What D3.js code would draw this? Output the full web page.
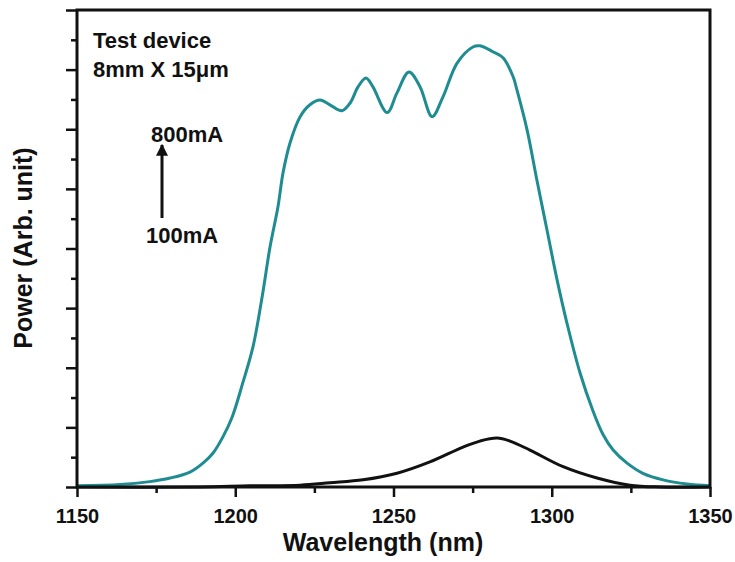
<!DOCTYPE html>
<html>
<head>
<meta charset="utf-8">
<script src="https://cdn.jsdelivr.net/npm/d3@7"></script>
<style>
  body { margin: 0; background: #fff; }
  text { font-family: "Liberation Sans", Arial, sans-serif; font-weight: bold; fill: #111; }
</style>
</head>
<body>
<svg width="735" height="562"></svg>
<script>
// spectrum at 800mA (teal)
var wl800 = [1150, 1163.6, 1173.0, 1179.4, 1185.7, 1189.8, 1193.0, 1196.1, 1199.0, 1202.4,
             1205.6, 1208.5, 1211.0, 1213.5, 1215.1, 1217.3, 1220.5, 1223.6, 1226.8, 1229.9,
             1233.7, 1236.3, 1238.8, 1241.3, 1243.5, 1248.0, 1251.1, 1254.9, 1258.4, 1262.2,
             1265.6, 1270.1, 1275.1, 1277.3, 1281.4, 1284.6, 1287.8, 1289.0, 1292.2, 1295.3,
             1298.5, 1301.7, 1304.8, 1308.9, 1313.0, 1316.2, 1319.4, 1323.8, 1328.8, 1335.2,
             1342.7, 1350];
var pow800 = [0.02, 0.04, 0.09, 0.15, 0.25, 0.40, 0.57, 0.84, 1.17, 1.75,
              2.35, 3.19, 4.03, 4.70, 5.27, 5.77, 6.21, 6.41, 6.49, 6.41,
              6.31, 6.44, 6.71, 6.86, 6.71, 6.28, 6.61, 6.96, 6.71, 6.21,
              6.54, 7.11, 7.38, 7.40, 7.30, 7.20, 6.88, 6.66, 5.99, 5.15,
              4.31, 3.47, 2.75, 1.92, 1.28, 0.88, 0.62, 0.40, 0.23, 0.12,
              0.05, 0.02];

// spectrum at 100mA (black)
var wl100 = [1150, 1188.9, 1204.7, 1220.5, 1229.9, 1240.4, 1251.1, 1261.5, 1272.0, 1277.3,
             1282.7, 1286.8, 1293.1, 1303.6, 1314.3, 1324.7, 1334.2, 1350];
var pow100 = [0, 0, 0.02, 0.03, 0.07, 0.12, 0.23, 0.42, 0.67, 0.77,
              0.82, 0.77, 0.62, 0.34, 0.15, 0.03, 0, 0];

var xMajor = [1150, 1200, 1250, 1300, 1350];
var xMinor = [1175, 1225, 1275, 1325];
var yMajor = [0, 1, 2, 3, 4, 5, 6, 7, 8];
var yMinor = [0.5, 1.5, 2.5, 3.5, 4.5, 5.5, 6.5, 7.5];

var svg = d3.select("svg");
var plotL = 77, plotR = 710, plotT = 10, plotB = 487;

var x = d3.scaleLinear().domain([1150, 1350]).range([plotL, plotR]);
var y = d3.scaleLinear().domain([0, 8]).range([plotB, plotT]);

function styleAxis(g) {
    g.select(".domain").remove();
    g.selectAll(".tick line").attr("stroke", "#111").attr("stroke-width", 2.5);
}

// x axis ticks
svg.append("g")
   .attr("transform", "translate(0," + plotB + ")")
   .call(d3.axisBottom(x).tickValues(xMajor).tickSize(10).tickPadding(12).tickFormat(d3.format("d")))
   .call(styleAxis)
   .selectAll("text")
   .style("font-size", "20px")
   .style("font-family", "'Liberation Sans', Arial, sans-serif")
   .style("font-weight", "bold")
   .attr("fill", "#111");
svg.append("g")
   .attr("transform", "translate(0," + plotB + ")")
   .call(d3.axisBottom(x).tickValues(xMinor).tickSize(6).tickFormat(""))
   .call(styleAxis);

// y axis ticks (no labels)
svg.append("g")
   .attr("transform", "translate(" + plotL + ",0)")
   .call(d3.axisLeft(y).tickValues(yMajor).tickSize(11).tickFormat(""))
   .call(styleAxis);
svg.append("g")
   .attr("transform", "translate(" + plotL + ",0)")
   .call(d3.axisLeft(y).tickValues(yMinor).tickSize(6).tickFormat(""))
   .call(styleAxis);

// curves
var line = d3.line()
    .x(function(d) { return x(d[0]); })
    .y(function(d) { return y(Math.max(0, d[1])); })
    .curve(d3.curveCatmullRom.alpha(0.5));

svg.append("path")
   .datum(d3.zip(wl100, pow100))
   .attr("d", line)
   .attr("fill", "none").attr("stroke", "#111").attr("stroke-width", 3);

svg.append("path")
   .datum(d3.zip(wl800, pow800))
   .attr("d", line)
   .attr("fill", "none").attr("stroke", "#1e8c91").attr("stroke-width", 3);

// frame
svg.append("rect")
   .attr("x", plotL).attr("y", plotT)
   .attr("width", plotR - plotL).attr("height", plotB - plotT)
   .attr("fill", "none").attr("stroke", "#111").attr("stroke-width", 3);

// axis titles
svg.append("text")
   .attr("x", 383).attr("y", 551)
   .attr("text-anchor", "middle")
   .style("font-size", "25px")
   .text("Wavelength (nm)");

svg.append("text")
   .attr("transform", "translate(32,248) rotate(-90)")
   .attr("text-anchor", "middle")
   .style("font-size", "25px")
   .text("Power (Arb. unit)");

// annotations
svg.append("text").attr("x", 93).attr("y", 48).style("font-size", "22px").text("Test device");
svg.append("text").attr("x", 93).attr("y", 77).style("font-size", "22px").text("8mm X 15\u03bcm");
svg.append("text").attr("x", 151).attr("y", 142).style("font-size", "22px").text("800mA");
svg.append("text").attr("x", 146).attr("y", 243).style("font-size", "22px").text("100mA");

svg.append("defs").append("marker")
   .attr("id", "head")
   .attr("viewBox", "0 0 10 10")
   .attr("refX", 9).attr("refY", 5)
   .attr("markerWidth", 4).attr("markerHeight", 5)
   .attr("markerUnits", "strokeWidth")
   .attr("orient", "auto")
   .append("path").attr("d", "M0,0L10,5L0,10Z").attr("fill", "#111");

svg.append("line")
   .attr("x1", 162).attr("y1", 218)
   .attr("x2", 162).attr("y2", 145)
   .attr("stroke", "#111").attr("stroke-width", 3)
   .attr("marker-end", "url(#head)");
</script>
</body>
</html>
